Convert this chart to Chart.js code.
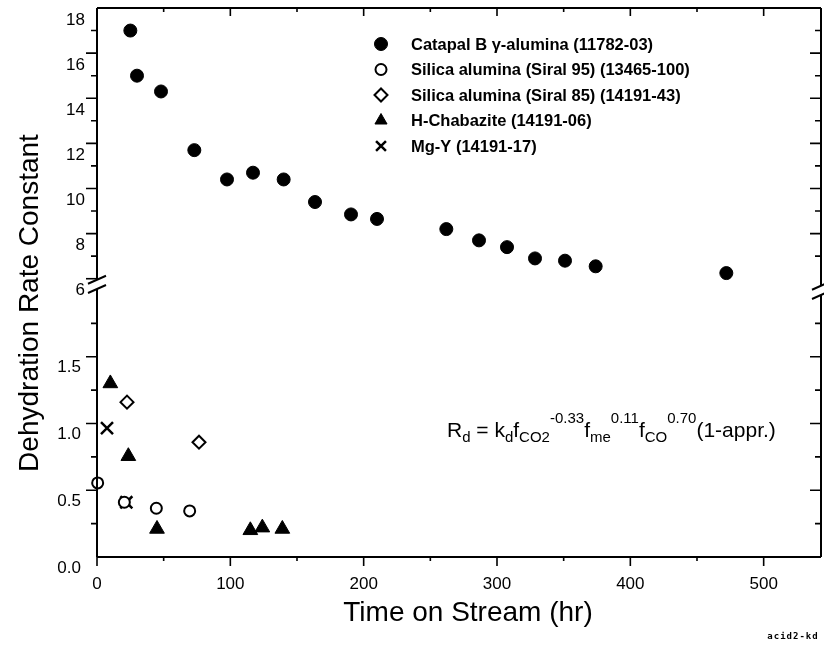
<!DOCTYPE html>
<html>
<head>
<meta charset="utf-8">
<script src="https://cdn.jsdelivr.net/npm/chart.js@4/dist/chart.umd.min.js"></script>
<style>
  html, body { margin: 0; padding: 0; background: #fff; }
  #wrap { position: relative; width: 824px; height: 646px; }
</style>
</head>
<body>
<div id="wrap"><canvas id="c" width="824" height="646"></canvas></div>
<script>
// ---- data (time on stream in hr, dehydration rate constant) ----
const seriesNames = [
  'Catapal B \u03B3-alumina (11782-03)',
  'Silica alumina (Siral 95) (13465-100)',
  'Silica alumina (Siral 85) (14191-43)',
  'H-Chabazite (14191-06)',
  'Mg-Y (14191-17)'
];
const catapalTime = [25, 30, 48, 73, 97.5, 117, 140, 163.5, 190.5, 210, 262, 286.5, 307.5, 328.5, 351, 374, 472];
const catapalK    = [17.0, 15.0, 14.3, 11.7, 10.4, 10.7, 10.4, 9.4, 8.85, 8.65, 8.2, 7.7, 7.4, 6.9, 6.8, 6.55, 6.25];
const siral95Time = [0.5, 20.5, 44.5, 69.5];
const siral95K    = [0.555, 0.41, 0.365, 0.345];
const siral85Time = [22.5, 76.5];
const siral85K    = [1.16, 0.86];
const chabTime    = [10, 23.5, 45, 115, 124, 139];
const chabK       = [1.30, 0.755, 0.21, 0.2, 0.22, 0.21];
const mgyTime     = [7.5, 22];
const mgyK        = [0.965, 0.41];
const xTickLabels = [0, 100, 200, 300, 400, 500];
const yLowTickLabels  = [0.0, 0.5, 1.0, 1.5];
const yHighTickLabels = [6, 8, 10, 12, 14, 16, 18];
const equationParts = [
  ['R', 'n'], ['d', 'sub'], [' = ', 'n'], ['k', 'n'], ['d', 'sub'], ['f', 'n'], ['CO2', 'sub'],
  ['-0.33', 'sup'], ['f', 'n'], ['me', 'sub'], ['0.11', 'sup'], ['f', 'n'], ['CO', 'sub'],
  ['0.70', 'sup'], ['(1-appr.)', 'n']
];

const pts = (xs, ys) => xs.map((x, i) => ({ x: x, y: ys[i] }));
const FONT = "'Liberation Sans', Arial, sans-serif";

const datasets = [
  { label: seriesNames[0], data: pts(catapalTime, catapalK), yAxisID: 'yHigh',
    pointStyle: 'circle', pointRadius: 6.5, backgroundColor: '#000', borderColor: '#000', borderWidth: 1 },
  { label: seriesNames[1], data: pts(siral95Time, siral95K), yAxisID: 'yLow',
    pointStyle: 'circle', pointRadius: 5.5, backgroundColor: '#fff', borderColor: '#000', borderWidth: 2 },
  { label: seriesNames[2], data: pts(siral85Time, siral85K), yAxisID: 'yLow',
    pointStyle: 'rectRot', pointRadius: 6.5, backgroundColor: '#fff', borderColor: '#000', borderWidth: 2 },
  { label: seriesNames[3], data: pts(chabTime, chabK), yAxisID: 'yLow',
    pointStyle: 'triangle', pointRadius: 8.5, backgroundColor: '#000', borderColor: '#000', borderWidth: 1 },
  { label: seriesNames[4], data: pts(mgyTime, mgyK), yAxisID: 'yLow',
    pointStyle: 'crossRot', pointRadius: 8.5, backgroundColor: '#000', borderColor: '#000', borderWidth: 2.5 }
];
datasets.forEach(d => { d.showLine = false; d.clip = false; d.pointHoverRadius = d.pointRadius; });

const near = (v, arr) => arr.some(a => Math.abs(a - v) < 1e-6);
const zeroPad = s => { s.paddingTop = 0; s.paddingBottom = 0; s.paddingLeft = 0; s.paddingRight = 0; };

const decor = {
  id: 'decor',
  afterDraw(chart) {
    const ctx = chart.ctx, a = chart.chartArea;
    const xs = chart.scales.x, lo = chart.scales.yLow, hi = chart.scales.yHigh;
    ctx.save();
    ctx.strokeStyle = '#000';
    ctx.fillStyle = '#000';
    ctx.lineCap = 'butt';

    const breakTop = hi.getPixelForValue(6) + 1;
    const breakBot = lo.getPixelForValue(2.0) - 1;
    const rShift = 6;

    // frame
    ctx.lineWidth = 2;
    ctx.beginPath();
    ctx.moveTo(a.left, a.top); ctx.lineTo(a.right, a.top);
    ctx.moveTo(a.left, a.bottom); ctx.lineTo(a.right, a.bottom);
    ctx.moveTo(a.left, a.top); ctx.lineTo(a.left, breakTop);
    ctx.moveTo(a.left, breakBot); ctx.lineTo(a.left, a.bottom);
    ctx.moveTo(a.right, a.top); ctx.lineTo(a.right, breakTop + rShift);
    ctx.moveTo(a.right, breakBot + rShift); ctx.lineTo(a.right, a.bottom);
    ctx.stroke();

    // break marks
    const brk = (x, y) => { ctx.beginPath(); ctx.moveTo(x - 9, y + 4); ctx.lineTo(x + 9, y - 4); ctx.stroke(); };
    brk(a.left, breakTop); brk(a.left, breakBot);
    brk(a.right, breakTop + rShift); brk(a.right, breakBot + rShift);

    // x ticks (bottom outward, top inward)
    ctx.lineWidth = 1.6;
    for (let t = 0; t <= xs.max; t += 50) {
      const px = xs.getPixelForValue(t);
      const major = near(t, xTickLabels);
      ctx.beginPath();
      ctx.moveTo(px, a.bottom); ctx.lineTo(px, a.bottom + (major ? 9 : 4));
      if (t > 0) { ctx.moveTo(px, a.top); ctx.lineTo(px, a.top + (major ? 8 : 4)); }
      ctx.stroke();
    }
    // y ticks, lower section
    for (let v = 0.25; v <= 1.75 + 1e-6; v += 0.25) {
      const py = lo.getPixelForValue(v);
      const major = near(v, yLowTickLabels);
      const L = major ? 11 : 6;
      ctx.beginPath();
      ctx.moveTo(a.left - L, py); ctx.lineTo(a.left, py);
      ctx.moveTo(a.right - L, py); ctx.lineTo(a.right, py);
      ctx.stroke();
    }
    // y ticks, upper section
    for (let v = 6; v < 18; v += 1) {
      const py = hi.getPixelForValue(v);
      const major = near(v, yHighTickLabels);
      const L = major ? 11 : 6;
      ctx.beginPath();
      ctx.moveTo(a.left - L, py); ctx.lineTo(a.left, py);
      if (v > 6) { ctx.moveTo(a.right - L, py); ctx.lineTo(a.right, py); }
      ctx.stroke();
    }

    // axis titles
    ctx.textAlign = 'center';
    ctx.textBaseline = 'middle';
    ctx.font = '28px ' + FONT;
    ctx.fillText('Time on Stream (hr)', 468, 613);
    ctx.save();
    ctx.translate(30, 303);
    ctx.rotate(-Math.PI / 2);
    ctx.fillText('Dehydration Rate Constant', 0, 0);
    ctx.restore();

    // legend
    const lx = 381, tx = 411, ly0 = 44, dy = 25.5;
    ctx.textAlign = 'left';
    ctx.font = 'bold 16.5px ' + FONT;
    chart.data.datasets.forEach((d, i) => {
      const y = ly0 + i * dy;
      ctx.fillStyle = d.backgroundColor;
      ctx.strokeStyle = d.borderColor;
      ctx.lineWidth = d.borderWidth;
      Chart.helpers.drawPoint(ctx, { pointStyle: d.pointStyle, radius: Math.min(d.pointRadius, 7), rotation: 0, borderWidth: d.borderWidth }, lx, y);
      ctx.fillStyle = '#000';
      ctx.fillText(d.label, tx, y + 1);
    });

    // equation
    let ex = 447;
    const eBase = 437;
    ctx.textBaseline = 'alphabetic';
    equationParts.forEach(([s, kind]) => {
      let yy = eBase;
      if (kind === 'n') ctx.font = '21px ' + FONT;
      else ctx.font = '15px ' + FONT;
      if (kind === 'sub') yy = eBase + 5;
      if (kind === 'sup') yy = eBase - 14;
      ctx.fillText(s, ex, yy);
      ex += ctx.measureText(s).width;
    });

    // file tag
    ctx.font = 'bold 9px "DejaVu Sans Mono", monospace';
    ctx.textAlign = 'center';
    ctx.letterSpacing = '1px';
    ctx.fillText('acid2-kd', 793, 639);
    ctx.letterSpacing = '0px';

    ctx.restore();
  }
};

new Chart(document.getElementById('c'), {
  type: 'scatter',
  data: { datasets: datasets },
  plugins: [decor],
  options: {
    responsive: false,
    animation: false,
    events: [],
    layout: { autoPadding: false, padding: { top: 8, right: 3, left: 0, bottom: 0 } },
    plugins: { legend: { display: false }, tooltip: { enabled: false } },
    scales: {
      x: {
        type: 'linear', position: 'bottom', min: 0, max: 543,
        grid: { display: false, drawTicks: false }, border: { display: false },
        ticks: { stepSize: 100, includeBounds: false, autoSkip: false, maxRotation: 0,
                 color: '#000', font: { family: FONT, size: 17 }, padding: 17,
                 callback: v => near(v, xTickLabels) ? String(v) : '' },
        afterFit: s => { s.height = 89; zeroPad(s); }
      },
      yLow: {
        type: 'linear', position: 'left', stack: 'left', stackWeight: 267, min: 0, max: 2.0,
        grid: { display: false, drawTicks: false }, border: { display: false },
        ticks: { stepSize: 0.25, includeBounds: false, autoSkip: false, labelOffset: 11,
                 color: '#000', font: { family: FONT, size: 17 }, padding: 16,
                 callback: v => near(v, yLowTickLabels) ? v.toFixed(1) : '' },
        afterFit: s => { s.width = 97; zeroPad(s); }
      },
      yHigh: {
        type: 'linear', position: 'left', stack: 'left', stackWeight: 282, min: 5.5, max: 18,
        grid: { display: false, drawTicks: false }, border: { display: false },
        ticks: { stepSize: 1, includeBounds: false, autoSkip: false, labelOffset: 12,
                 color: '#000', font: { family: FONT, size: 17 }, padding: 12,
                 callback: v => near(v, yHighTickLabels) ? String(v) : '' },
        afterFit: s => { s.width = 97; zeroPad(s); }
      }
    }
  }
});
</script>
</body>
</html>
